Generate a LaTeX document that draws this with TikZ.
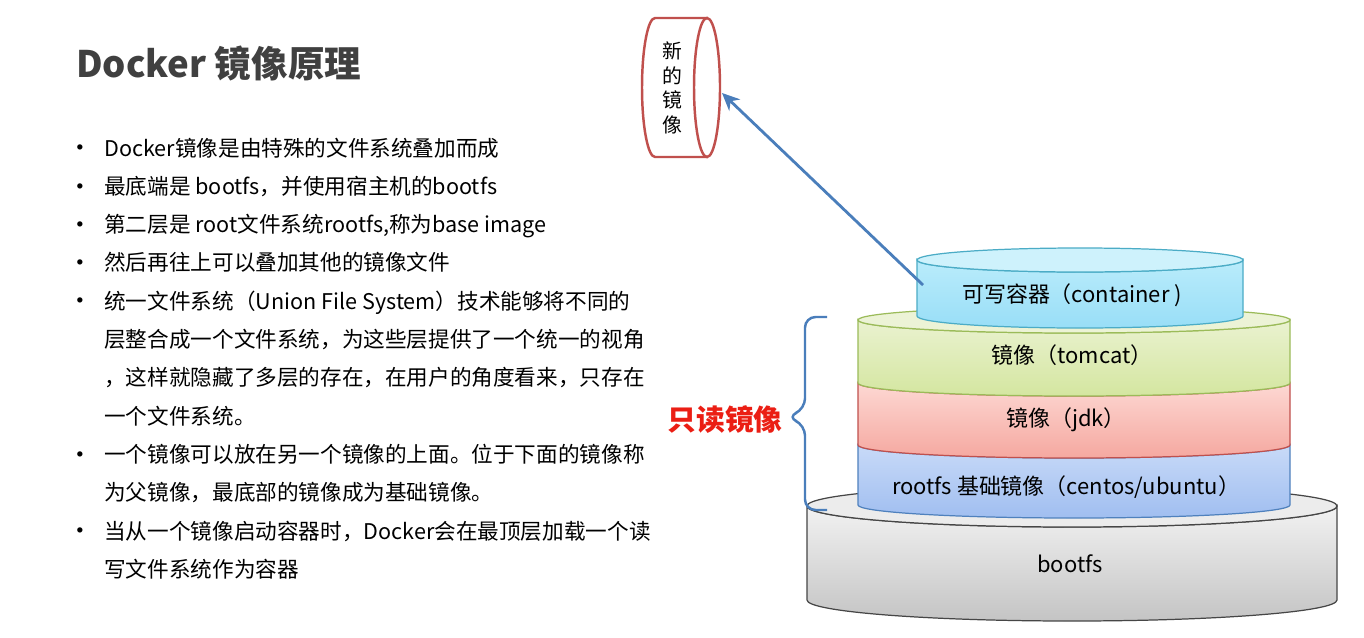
\documentclass[tikz,border=0pt]{standalone}
\usepackage{fontspec}
\setmainfont{Noto Sans CJK SC}
\usetikzlibrary{arrows.meta}

\definecolor{titlegray}{RGB}{64,64,64}
\definecolor{readred}{RGB}{235,30,20}
\definecolor{linkblue}{RGB}{74,126,187}
\definecolor{newred}{RGB}{192,80,77}
\definecolor{bootA}{RGB}{242,242,242}
\definecolor{bootB}{RGB}{196,196,196}
\definecolor{boottop}{RGB}{236,236,236}
\definecolor{bootline}{RGB}{70,70,70}
\definecolor{rootA}{RGB}{200,218,248}
\definecolor{rootB}{RGB}{160,190,240}
\definecolor{rootline}{RGB}{79,129,189}
\definecolor{jdkA}{RGB}{253,216,211}
\definecolor{jdkB}{RGB}{245,168,160}
\definecolor{jdkline}{RGB}{192,80,77}
\definecolor{tomA}{RGB}{234,242,208}
\definecolor{tomB}{RGB}{212,230,160}
\definecolor{tomtop}{RGB}{236,243,214}
\definecolor{tomline}{RGB}{155,187,89}
\definecolor{conA}{RGB}{186,236,251}
\definecolor{conB}{RGB}{152,222,247}
\definecolor{contop}{RGB}{206,242,252}
\definecolor{conline}{RGB}{75,172,198}

\newcommand{\bulletdot}{\raisebox{3pt}{\fontsize{7pt}{7pt}\selectfont$\bullet$}}

\begin{document}
\begin{tikzpicture}[
    x=0.02cm, y=0.02cm,
    >=Stealth,
    every node/.style={inner sep=0pt},
    bodytext/.style={font=\fontsize{12.3pt}{21.8pt}\selectfont, text=black},
    layertext/.style={font=\fontsize{12.5pt}{14pt}\selectfont, text=black},
    edge/.style={line width=0.7pt},
    bootbody/.style={edge, draw=bootline, top color=bootA, bottom color=bootB},
    boottop/.style={edge, draw=bootline, fill=boottop},
    rootbody/.style={edge, draw=rootline, top color=rootA, bottom color=rootB},
    jdkbody/.style={edge, draw=jdkline, top color=jdkA, bottom color=jdkB},
    tombody/.style={edge, draw=tomline, top color=tomA, bottom color=tomB},
    tomtop/.style={edge, draw=tomline, fill=tomtop},
    conbody/.style={edge, draw=conline, top color=conA, bottom color=conB},
    contop/.style={edge, draw=conline, fill=contop},
    newbody/.style={draw=newred, line width=1.4pt, fill=white},
    bracket/.style={draw=linkblue, line width=1.4pt, rounded corners=6},
    imgarrow/.style={-{Stealth[length=10pt,width=9pt]}, linkblue, line width=1.6pt},
]
\fill[white] (0,0) rectangle (1364,637);
\useasboundingbox (0,0) rectangle (1364,637);

% ---- Left: title and points ----
\node[anchor=west, font=\fontsize{20.8pt}{24pt}\selectfont\bfseries, text=titlegray] (title) at (76,574) {Docker 镜像原理};

\node[bodytext, anchor=base west] (points) at (76,481) {%
\begin{tabular}[t]{@{}p{0.56cm}@{}l@{}}
\bulletdot & Docker镜像是由特殊的文件系统叠加而成\\
\bulletdot & 最底端是 bootfs，并使用宿主机的bootfs\\
\bulletdot & 第二层是 root文件系统rootfs,称为base image\\
\bulletdot & 然后再往上可以叠加其他的镜像文件\\
\bulletdot & 统一文件系统（Union File System）技术能够将不同的\\
 & 层整合成一个文件系统，为这些层提供了一个统一的视角\\
 & ，这样就隐藏了多层的存在，在用户的角度看来，只存在\\
 & 一个文件系统。\\
\bulletdot & 一个镜像可以放在另一个镜像的上面。位于下面的镜像称\\
 & 为父镜像，最底部的镜像成为基础镜像。\\
\bulletdot & 当从一个镜像启动容器时，Docker会在最顶层加载一个读\\
 & 写文件系统作为容器
\end{tabular}};

% ---- Right: layer stack (bottom to top) ----
\path[bootbody] (807,131) -- (807,37) arc[start angle=180, end angle=360, x radius=265, y radius=21] -- (1337,131) arc[start angle=0, end angle=-180, x radius=265, y radius=21] -- cycle;
\path[boottop] (1072,131) ellipse[x radius=265, y radius=21];
\node[layertext] (bootfs) at (1070,73) {bootfs};

\path[rootbody] (858,192) -- (858,132) arc[start angle=180, end angle=360, x radius=216, y radius=13] -- (1290,192) arc[start angle=0, end angle=-180, x radius=216, y radius=13] -- cycle;
\node[layertext] (rootfs) at (1066,150) {rootfs 基础镜像（centos/ubuntu）};

\path[jdkbody] (858,254) -- (858,192) arc[start angle=180, end angle=360, x radius=216, y radius=13] -- (1290,254) arc[start angle=0, end angle=-180, x radius=216, y radius=13] -- cycle;
\node[layertext] (jdk) at (1066,217) {镜像（jdk）};

\path[tombody] (858,317) -- (858,254) arc[start angle=180, end angle=360, x radius=216, y radius=13] -- (1290,317) arc[start angle=0, end angle=-180, x radius=216, y radius=13] -- cycle;
\path[tomtop] (1074,317) ellipse[x radius=216, y radius=13];
\node[layertext] (tomcat) at (1072,282) {镜像（tomcat）};

\path[conbody] (917,377) -- (917,321) arc[start angle=180, end angle=360, x radius=163, y radius=12] -- (1243,377) arc[start angle=0, end angle=-180, x radius=163, y radius=12] -- cycle;
\path[contop] (1080,377) ellipse[x radius=163, y radius=12];
\node[layertext] (container) at (1072,342) {可写容器（container )};

% ---- Read-only bracket ----
\node[anchor=east, font=\fontsize{16.4pt}{18pt}\selectfont\bfseries, text=readred] (readonly) at (783,217) {只读镜像};
\path[bracket] (827,320) -- (805,320) -- (805,228) -- (787,220) -- (805,212) -- (805,127) -- (827,127);

% ---- New image ----
\path[newbody] (707,619) -- (655,619) arc[start angle=90, end angle=270, x radius=13, y radius=69.5] -- (707,480) -- cycle;
\path[newbody] (707,549.5) ellipse[x radius=13, y radius=69.5];
\node[align=center, font=\fontsize{11.3pt}{13.9pt}\selectfont] (newimg) at (672,549) {新\\的\\镜\\像};

\coordinate (wrstart) at (923,352);
\coordinate (newend) at (722,544);
\draw[imgarrow] (wrstart) -- (newend);

\end{tikzpicture}
\end{document}
